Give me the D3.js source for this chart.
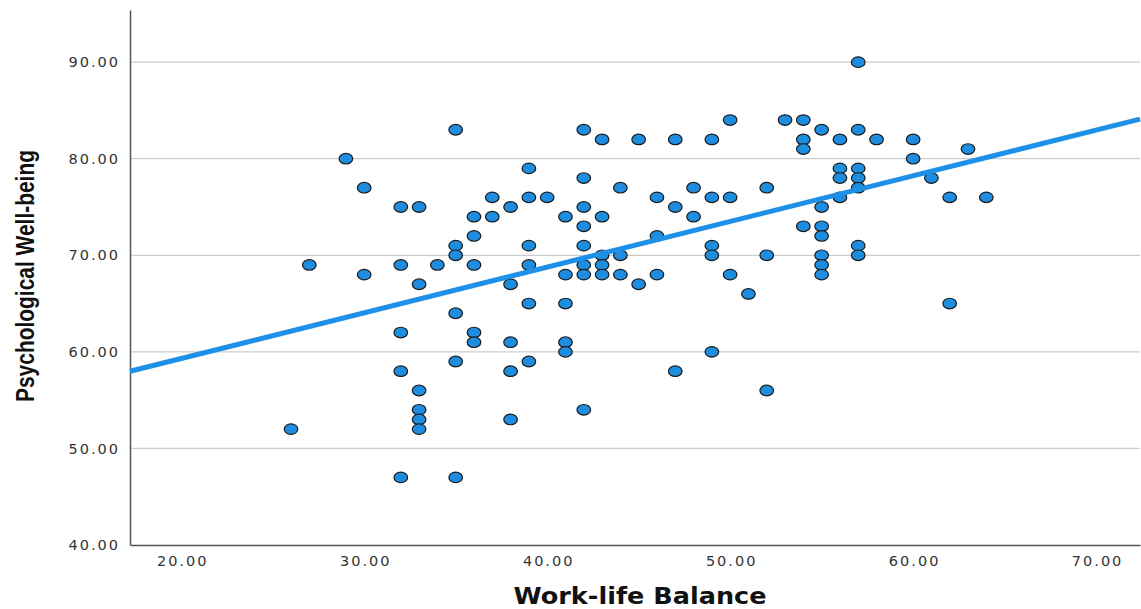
<!DOCTYPE html>
<html>
<head>
<meta charset="utf-8">
<script src="https://cdn.jsdelivr.net/npm/d3@7"></script>
<style>
  html, body { margin: 0; padding: 0; background: #fff; }
  svg { display: block; }
</style>
</head>
<body>
<svg id="chart" width="1141" height="609"></svg>
<script>
// Work-life balance scores (x) and psychological well-being scores (y), one entry per respondent
const workLife = [
  26, 27, 29, 30, 30,
  32, 32, 32, 32, 32,
  33, 33, 33, 33, 33, 33,
  34,
  35, 35, 35, 35, 35, 35,
  36, 36, 36, 36, 36,
  37, 37,
  38, 38, 38, 38, 38,
  39, 39, 39, 39, 39, 39,
  40,
  41, 41, 41, 41, 41,
  42, 42, 42, 42, 42, 42, 42, 42,
  43, 43, 43, 43, 43,
  44, 44, 44,
  45, 45,
  46, 46, 46,
  47, 47, 47,
  48, 48,
  49, 49, 49, 49, 49,
  50, 50, 50,
  51,
  52, 52, 52,
  53,
  54, 54, 54, 54,
  55, 55, 55, 55, 55, 55, 55,
  56, 56, 56, 56,
  57, 57, 57, 57, 57, 57, 57,
  58,
  60, 60,
  61,
  62, 62,
  63,
  64
];
const wellBeing = [
  52, 69, 80, 77, 68,
  75, 69, 62, 58, 47,
  75, 67, 56, 54, 53, 52,
  69,
  83, 71, 70, 64, 59, 47,
  74, 72, 69, 62, 61,
  76, 74,
  75, 67, 61, 58, 53,
  79, 76, 71, 69, 65, 59,
  76,
  74, 68, 65, 61, 60,
  83, 78, 75, 73, 71, 69, 68, 54,
  82, 74, 70, 69, 68,
  77, 70, 68,
  82, 67,
  76, 72, 68,
  82, 75, 58,
  77, 74,
  82, 76, 71, 70, 60,
  84, 76, 68,
  66,
  77, 70, 56,
  84,
  84, 82, 81, 73,
  83, 75, 73, 72, 70, 69, 68,
  82, 79, 78, 76,
  90, 83, 79, 78, 77, 71, 70,
  82,
  82, 80,
  78,
  76, 65,
  81,
  76
];
const xTicks = [20, 30, 40, 50, 60, 70];
const yTicks = [40, 50, 60, 70, 80, 90];
const xDomain = [17.2, 72.4];
const yDomain = [40, 95.4];

const points = workLife.map((x, i) => ({ x, y: wellBeing[i] }));

// Ordinary least squares fit of well-being on work-life balance
const mx = d3.mean(workLife), my = d3.mean(wellBeing);
const sxy = d3.sum(points, p => (p.x - mx) * (p.y - my));
const sxx = d3.sum(points, p => (p.x - mx) ** 2);
const slope = sxy / sxx;
const intercept = my - slope * mx;

const svg = d3.select("#chart");
const plot = { left: 130, right: 1140, top: 10, bottom: 545 };

const x = d3.scaleLinear().domain(xDomain).range([plot.left, plot.right]);
const y = d3.scaleLinear().domain(yDomain).range([plot.bottom, plot.top]);

// Horizontal gridlines
svg.append("g")
  .selectAll("line")
  .data(yTicks.filter(t => t > yDomain[0]))
  .join("line")
  .attr("x1", plot.left).attr("x2", plot.right)
  .attr("y1", d => y(d)).attr("y2", d => y(d))
  .attr("stroke", "#cdcdcd").attr("stroke-width", 1.3);

// Axes
const xAxis = svg.append("g")
  .attr("transform", `translate(0,${plot.bottom})`)
  .call(d3.axisBottom(x).tickValues(xTicks).tickFormat(d3.format(".2f")).tickSize(0).tickPadding(11));
const yAxis = svg.append("g")
  .attr("transform", `translate(${plot.left},0)`)
  .call(d3.axisLeft(y).tickValues(yTicks).tickFormat(d3.format(".2f")).tickSize(0).tickPadding(10));

[xAxis, yAxis].forEach(g => {
  g.select(".domain").attr("stroke", "#555").attr("stroke-width", 1.5);
  g.selectAll("text")
    .attr("fill", "#333")
    .style("font-family", "'DejaVu Sans', Verdana, sans-serif")
    .style("font-size", "14.5px")
    .style("letter-spacing", "2px");
});
xAxis.selectAll("text").attr("dx", "1px");

// Scatter markers
svg.append("g")
  .selectAll("ellipse")
  .data(points)
  .join("ellipse")
  .attr("cx", d => x(d.x))
  .attr("cy", d => y(d.y))
  .attr("rx", 6.8).attr("ry", 5.3)
  .attr("fill", "#1e8de0")
  .attr("stroke", "#1a1a1a")
  .attr("stroke-width", 1.2);

// Fit line across the full x range
svg.append("line")
  .attr("x1", x(xDomain[0])).attr("y1", y(intercept + slope * xDomain[0]))
  .attr("x2", x(xDomain[1])).attr("y2", y(intercept + slope * xDomain[1]))
  .attr("stroke", "#1e90e8")
  .attr("stroke-width", 5);

// Axis titles
svg.append("text")
  .attr("x", 640).attr("y", 604)
  .attr("text-anchor", "middle")
  .attr("textLength", 253)
  .attr("lengthAdjust", "spacingAndGlyphs")
  .style("font-family", "'DejaVu Sans', Verdana, sans-serif")
  .style("font-weight", "bold")
  .style("font-size", "23px")
  .attr("fill", "#111")
  .text("Work-life Balance");

svg.append("text")
  .attr("transform", "translate(34,276) rotate(-90)")
  .attr("text-anchor", "middle")
  .attr("textLength", 252)
  .attr("lengthAdjust", "spacingAndGlyphs")
  .style("font-family", "'Liberation Sans Narrow', 'Arial Narrow', sans-serif")
  .style("font-weight", "bold")
  .style("font-size", "25px")
  .attr("fill", "#111")
  .text("Psychological Well-being");
</script>
</body>
</html>
